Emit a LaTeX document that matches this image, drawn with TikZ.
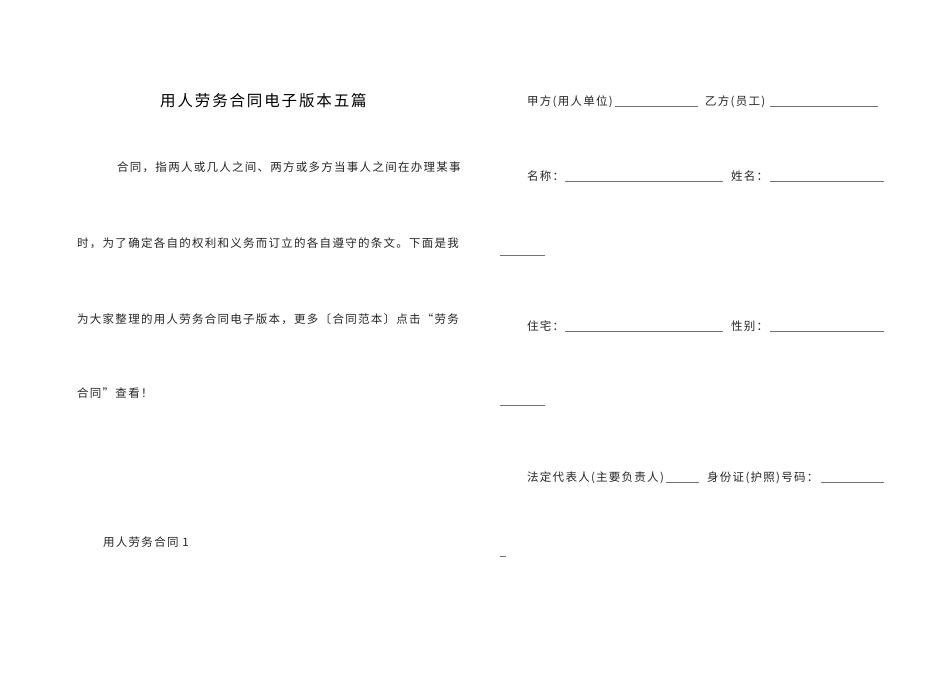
\documentclass[tikz,border=0pt]{standalone}
\usepackage{fontspec}
\newfontfamily\cjk[LetterSpace=11]{Noto Sans CJK SC}
\newfontfamily\cjktitle[LetterSpace=12]{Noto Sans CJK SC}
\begin{document}
\begin{tikzpicture}[x=1pt,y=-1pt,
  txt/.style={anchor=base west,inner sep=0pt,font=\cjk\fontsize{11.5}{14}\selectfont,text=black!85},
  uline/.style={draw=black!55,line width=0.5pt}]
\useasboundingbox[fill=white] (0,0) rectangle (950,672);
\node[anchor=base west,inner sep=0pt,font=\cjktitle\fontsize{15.5}{18}\selectfont] (title) at (160,106) {用人劳务合同电子版本五篇};
\node[txt] (p1) at (117,171) {合同，指两人或几人之间、两方或多方当事人之间在办理某事};
\node[txt] (p2) at (77,247) {时，为了确定各自的权利和义务而订立的各自遵守的条文。下面是我};
\node[txt] (p3) at (77,323) {为大家整理的用人劳务合同电子版本，更多〔合同范本〕点击“劳务};
\node[txt] (p4) at (77,397) {合同”查看！};
\node[txt] (h1) at (103,546) {用人劳务合同 1};
% right column
\node[txt] (a1) at (527,105) {甲方(用人单位)};
\draw[uline] (615,106) -- (698,106);
\node[txt] (b1) at (705,105) {乙方(员工)};
\draw[uline] (770,106) -- (878,106);
\node[txt] (a2) at (527,180) {名称：};
\draw[uline] (565,181) -- (723,181);
\node[txt] (b2) at (731,180) {姓名：};
\draw[uline] (770,181) -- (884,181);
\draw[uline] (500,255) -- (545,255);
\node[txt] (a3) at (527,330) {住宅：};
\draw[uline] (565,331) -- (723,331);
\node[txt] (b3) at (731,330) {性别：};
\draw[uline] (770,331) -- (884,331);
\draw[uline] (500,405) -- (545,405);
\node[txt] (a4) at (527,481) {法定代表人(主要负责人)};
\draw[uline] (666,482) -- (699,482);
\node[txt] (b4) at (707,481) {身份证(护照)号码：};
\draw[uline] (821,482) -- (884,482);
\draw[uline] (500,556) -- (506,556);
\end{tikzpicture}
\end{document}
